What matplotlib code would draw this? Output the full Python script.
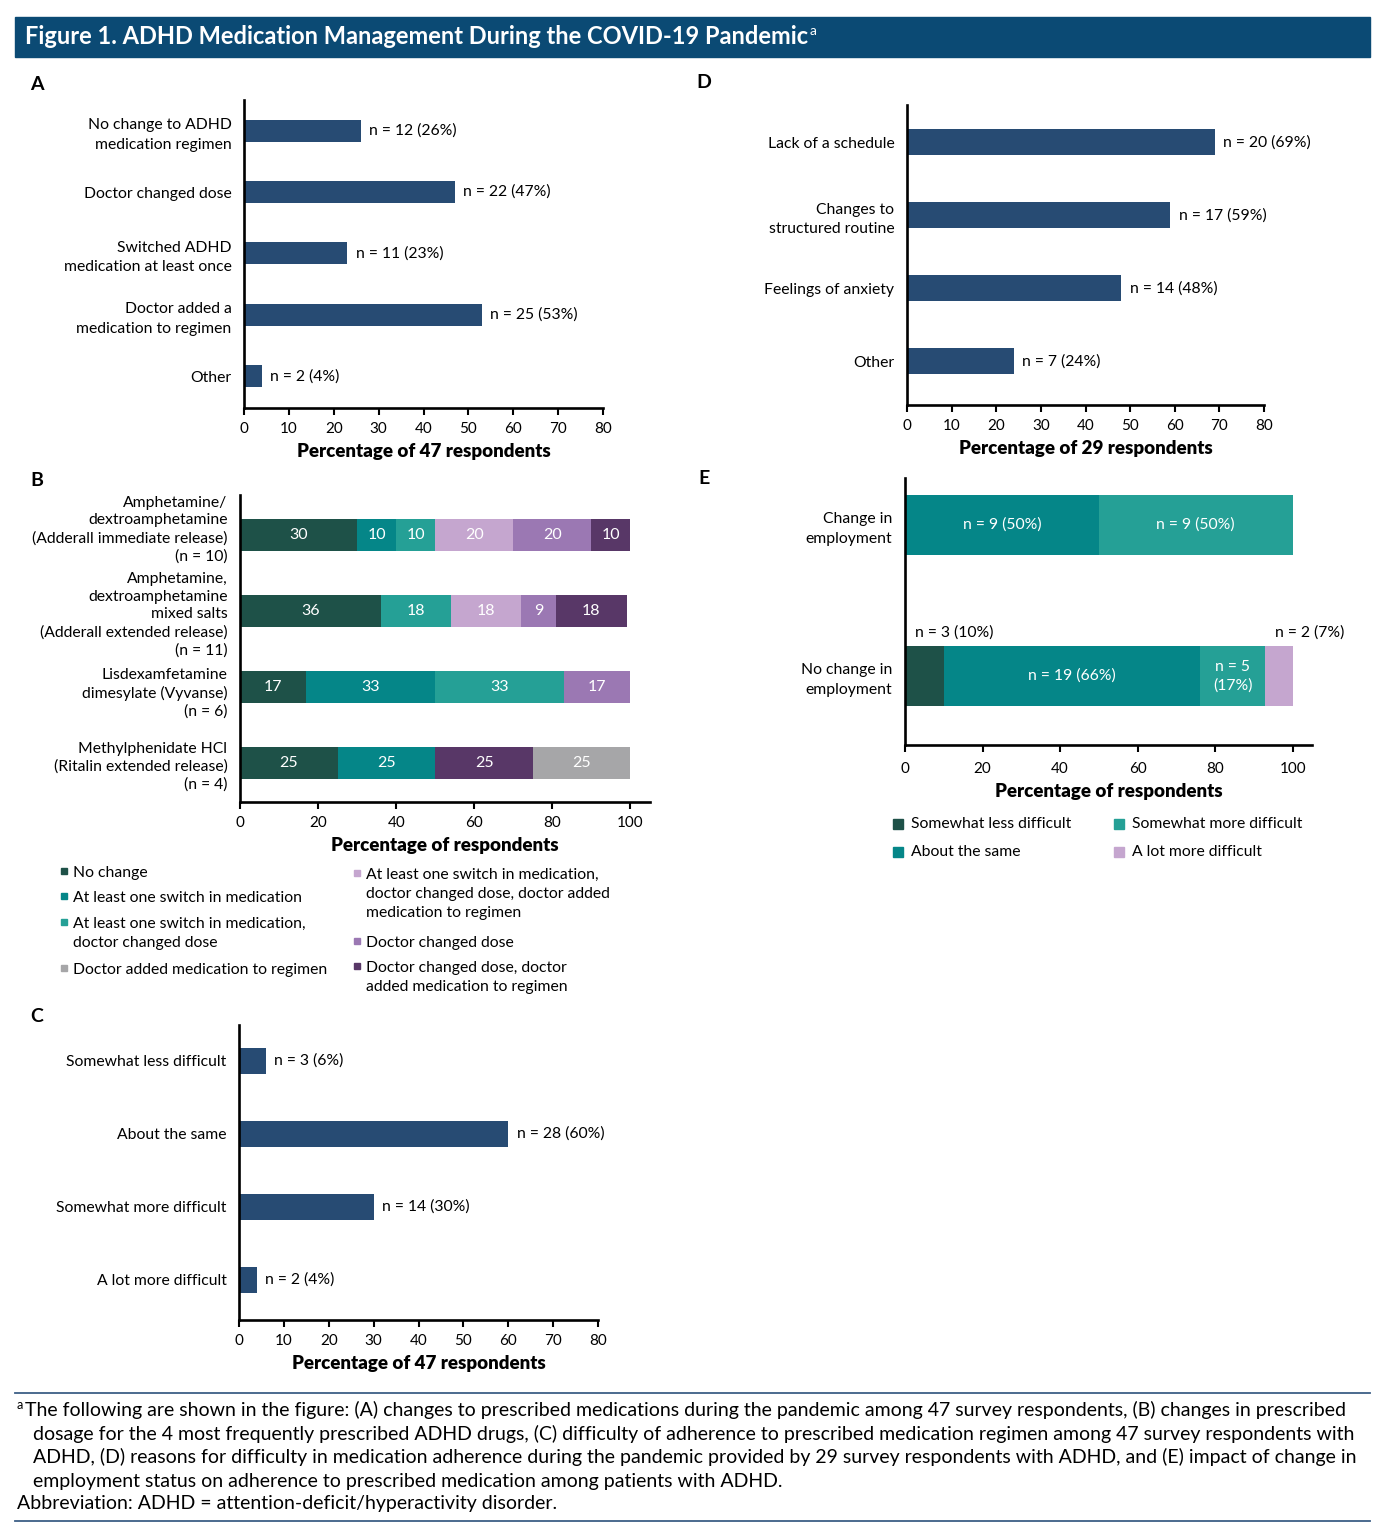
import numpy as np
import matplotlib
matplotlib.use("Agg")
import matplotlib.pyplot as plt
import matplotlib.transforms as mtransforms
from matplotlib.patches import Rectangle

plt.rcParams['font.family'] = ['Lato', 'DejaVu Sans']

# ---- data ----
a_labels = ["No change to ADHD\nmedication regimen", "Doctor changed dose",
            "Switched ADHD\nmedication at least once", "Doctor added a\nmedication to regimen", "Other"]
a_counts = [12, 22, 11, 25, 2]
a_pct = [26, 47, 23, 53, 4]

b_drugs = ["Amphetamine/\ndextroamphetamine\n(Adderall immediate release)\n(n = 10)",
           "Amphetamine,\ndextroamphetamine\nmixed salts\n(Adderall extended release)\n(n = 11)",
           "Lisdexamfetamine\ndimesylate (Vyvanse)\n(n = 6)",
           "Methylphenidate HCl\n(Ritalin extended release)\n(n = 4)"]
b_no_change = [30, 36, 17, 25]
b_switch = [10, 0, 33, 25]
b_switch_dose = [10, 18, 33, 0]
b_switch_dose_added = [20, 18, 0, 0]
b_dose = [20, 9, 17, 0]
b_dose_added = [10, 18, 0, 25]
b_added = [0, 0, 0, 25]

c_labels = ["Somewhat less difficult", "About the same", "Somewhat more difficult", "A lot more difficult"]
c_counts = [3, 28, 14, 2]
c_pct = [6, 60, 30, 4]

d_labels = ["Lack of a schedule", "Changes to\nstructured routine", "Feelings of anxiety", "Other"]
d_counts = [20, 17, 14, 7]
d_pct = [69, 59, 48, 24]

e_groups = ["Change in\nemployment", "No change in\nemployment"]
e_levels = ["Somewhat less difficult", "About the same", "Somewhat more difficult", "A lot more difficult"]
e_less_n = [0, 3]
e_less_pct = [0, 10]
e_same_n = [9, 19]
e_same_pct = [50, 66]
e_more_n = [9, 5]
e_more_pct = [50, 17]
e_lot_n = [0, 2]
e_lot_pct = [0, 7]

# ---- style ----
BAR = "#274b73"
NAVY = "#0b4a74"
C_NC = "#1e5148"
C_SW = "#058688"
C_SWD = "#25a096"
C_ADD = "#a6a6a8"
C_SDA = "#c5a6cf"
C_DOSE = "#9b78b3"
C_DA = "#583767"

W, H = 1388, 1536
fig = plt.figure(figsize=(W / 100, H / 100), dpi=100)
renderer = fig.canvas.get_renderer()


def frect(x0, y0, x1, y1):
    return [x0 / W, 1 - y1 / H, (x1 - x0) / W, (y1 - y0) / H]


def fx(x):
    return x / W


def fy(y):
    return 1 - y / H


def style_axes(ax, xmax, ticks, xlabel, ylim):
    for s in ["top", "right"]:
        ax.spines[s].set_visible(False)
    for s in ["left", "bottom"]:
        ax.spines[s].set_linewidth(1.9)
    ax.set_xlim(0, xmax)
    ax.set_ylim(*ylim)
    ax.set_xticks(ticks)
    ax.tick_params(axis="x", direction="out", length=5, width=1.5, pad=5, labelsize=11)
    ax.tick_params(axis="y", length=0, pad=9, labelsize=11.3)
    ax.set_xlabel(xlabel, fontsize=13.5, fontweight="heavy", labelpad=5)


def simple_panel(box, labels, pct, counts, xlabel, ylim):
    ax = fig.add_axes(frect(*box))
    y = np.arange(len(labels))
    ax.barh(y, pct, height=0.36, color=BAR)
    ax.set_yticks(y)
    ax.set_yticklabels(labels, linespacing=1.5)
    for yi, p, n in zip(y, pct, counts):
        ax.annotate(f"n = {n} ({p}%)", (p, yi), xytext=(6, 0), textcoords="offset points",
                    va="center", ha="left", fontsize=11.3)
    style_axes(ax, 80, range(0, 81, 10), xlabel, ylim)
    return ax


# title bar
fig.patches.append(Rectangle((fx(15), fy(57)), fx(1370) - fx(15), fy(17) - fy(57),
                             transform=fig.transFigure, color=NAVY))
t = fig.text(fx(25), fy(37), "Figure 1. ADHD Medication Management During the COVID-19 Pandemic",
             color="white", fontsize=17, fontweight="bold", va="center", ha="left")
bb = t.get_window_extent(renderer)
t.set_fontsize(17 * (808 - 25) / bb.width)
bb = t.get_window_extent(renderer)
fig.text((bb.x1 + 1) / W, fy(31), "a", color="white", fontsize=10, va="center", ha="left")

# panel letters
for letter, (x, y) in zip("ABCDE", [(37, 85), (37, 480), (37, 1016), (704, 82), (704, 479)]):
    fig.text(fx(x), fy(y), letter, fontsize=14, fontweight="bold", ha="center", va="center")

# panel A
simple_panel((244, 100, 603, 408), a_labels, a_pct, a_counts, "Percentage of 47 respondents", (4.52, -0.5))
# panel C
simple_panel((239, 1025, 598, 1320), c_labels, c_pct, c_counts, "Percentage of 47 respondents", (3.55, -0.49))
# panel D
simple_panel((907, 105, 1264, 405), d_labels, d_pct, d_counts, "Percentage of 29 respondents", (3.6, -0.51))

# panel B
axb = fig.add_axes(frect(240, 495, 650, 802))
yb = np.arange(len(b_drugs))
b_series = [(b_no_change, C_NC), (b_switch, C_SW), (b_switch_dose, C_SWD), (b_switch_dose_added, C_SDA),
            (b_dose, C_DOSE), (b_dose_added, C_DA), (b_added, C_ADD)]
left = np.zeros(len(b_drugs))
for vals, col in b_series:
    vals = np.array(vals, dtype=float)
    axb.barh(yb, vals, left=left, height=0.42, color=col)
    for yi, v, l in zip(yb, vals, left):
        if v > 0:
            axb.text(l + v / 2, yi, f"{v:.0f}", color="white", fontsize=11.5, ha="center", va="center")
    left += vals
axb.set_yticks(yb)
axb.set_yticklabels(b_drugs, linespacing=1.33)
style_axes(axb, 105, range(0, 101, 20), "Percentage of respondents", (3.51, -0.53))
# nudge the first drug label up, as in the original layout
for lab, dy in zip(axb.get_yticklabels(), [9, 0, -3, 0]):
    lab.set_transform(lab.get_transform() + mtransforms.ScaledTranslation(0, dy / 100, fig.dpi_scale_trans))

# legend B
leg_b = [(64, 871, C_NC, "No change"),
         (64, 896, C_SW, "At least one switch in medication"),
         (64, 922, C_SWD, "At least one switch in medication,\ndoctor changed dose"),
         (64, 968, C_ADD, "Doctor added medication to regimen"),
         (357, 873, C_SDA, "At least one switch in medication,\ndoctor changed dose, doctor added\nmedication to regimen"),
         (357, 941, C_DOSE, "Doctor changed dose"),
         (357, 966, C_DA, "Doctor changed dose, doctor\nadded medication to regimen")]
for x, y, col, txt in leg_b:
    fig.patches.append(Rectangle((fx(x - 3), fy(y + 3)), 6 / W, 6 / H, transform=fig.transFigure, color=col))
    fig.text(fx(x + 9), fy(y - 5), txt, fontsize=11.3, ha="left", va="top", linespacing=1.45)

# panel E
axe = fig.add_axes(frect(905, 478, 1312, 745))
ye = np.arange(len(e_groups))
e_series = [(e_less_pct, e_less_n, C_NC), (e_same_pct, e_same_n, C_SW),
            (e_more_pct, e_more_n, C_SWD), (e_lot_pct, e_lot_n, C_SDA)]
left = np.zeros(len(e_groups))
for pcts, ns, col in e_series:
    pcts = np.array(pcts, dtype=float)
    axe.barh(ye, pcts, left=left, height=0.4, color=col)
    for yi, p, n, l in zip(ye, pcts, ns, left):
        if p <= 0:
            continue
        if p >= 15:
            sep = "\n" if p < 30 else " "
            axe.text(l + p / 2, yi, f"n = {n}{sep}({p:.0f}%)", color="white", fontsize=11.3,
                     ha="center", va="center", linespacing=1.4)
        else:
            axe.annotate(f"n = {n} ({p:.0f}%)", (l, yi - 0.2), xytext=(7, 4), textcoords="offset points",
                         ha="left", va="bottom", fontsize=11.3)
    left += pcts
axe.set_yticks(ye)
axe.set_yticklabels(e_groups, linespacing=1.5)
style_axes(axe, 105, range(0, 101, 20), "Percentage of respondents", (1.457, -0.31))
axe.tick_params(axis="x", pad=7)

leg_e = [(898, 824, C_NC, e_levels[0]), (898, 852, C_SW, e_levels[1]),
         (1119, 824, C_SWD, e_levels[2]), (1119, 852, C_SDA, e_levels[3])]
for x, y, col, txt in leg_e:
    fig.patches.append(Rectangle((fx(x - 5), fy(y + 5)), 10 / W, 10 / H, transform=fig.transFigure, color=col))
    fig.text(fx(x + 13), fy(y), txt, fontsize=11.3, ha="left", va="center")

# footnote
for y in (1393, 1521):
    fig.add_artist(plt.Line2D([fx(15), fx(1370)], [fy(y), fy(y)], color="#3d5f86", lw=1.3,
                              transform=fig.transFigure))
foot = [(25, 1410, "The following are shown in the figure: (A) changes to prescribed medications during the pandemic among 47 survey respondents, (B) changes in prescribed"),
        (33, 1434, "dosage for the 4 most frequently prescribed ADHD drugs, (C) difficulty of adherence to prescribed medication regimen among 47 survey respondents with"),
        (33, 1457, "ADHD, (D) reasons for difficulty in medication adherence during the pandemic provided by 29 survey respondents with ADHD, and (E) impact of change in"),
        (33, 1481, "employment status on adherence to prescribed medication among patients with ADHD."),
        (17, 1504, "Abbreviation: ADHD = attention-deficit/hyperactivity disorder.")]
sizes = []
for x, y, txt in foot[:3]:
    probe = fig.text(0, 0, txt, fontsize=14)
    sizes.append(14 * (1358 - x) / probe.get_window_extent(renderer).width)
    probe.remove()
fs = min(sizes)
fig.text(fx(17), fy(1405), "a", fontsize=fs * 0.65, ha="left", va="center")
for x, y, txt in foot:
    fig.text(fx(x), fy(y), txt, fontsize=fs, ha="left", va="center")

fig.savefig("out.png", dpi=100)
